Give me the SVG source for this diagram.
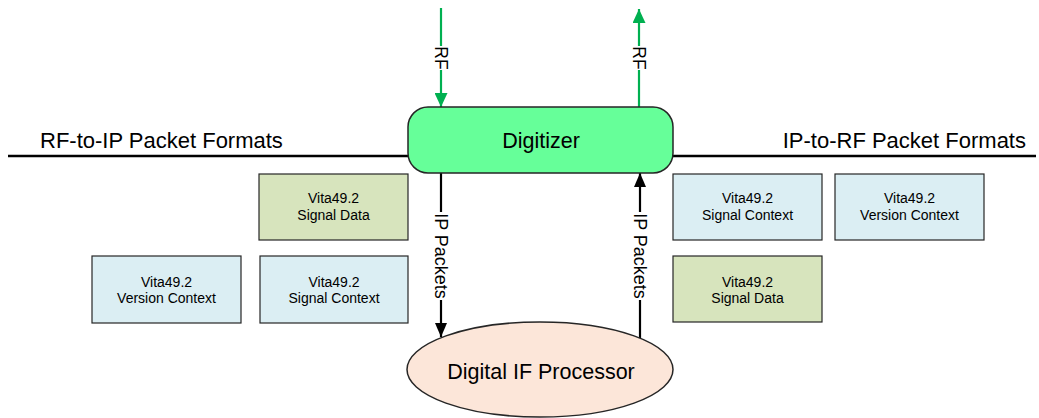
<svg xmlns="http://www.w3.org/2000/svg" width="1039" height="418" viewBox="0 0 1039 418">
  <style>
    text { font-family: "Liberation Sans", Arial, sans-serif; fill: #000; }
    .title { font-size: 22px; }
    .main { font-size: 21.5px; text-anchor: middle; }
    .fmt { font-size: 14px; text-anchor: middle; }
    .lbl { font-size: 17.5px; text-anchor: middle; }
    .ctx { fill: #DBEEF3; stroke: #262626; stroke-width: 1.2; }
    .dat { fill: #D7E4BD; stroke: #262626; stroke-width: 1.2; }
    .rule { stroke: #000; stroke-width: 2.5; fill: none; }
    .rf { stroke: #00B050; stroke-width: 2.2; fill: none; }
    .ip { stroke: #000; stroke-width: 2.2; fill: none; }
    .gap { fill: #fff; }
  </style>
  <defs>
    <marker id="head-green" viewBox="0 0 14 13" refX="14" refY="6.5" markerWidth="14" markerHeight="13" markerUnits="userSpaceOnUse" orient="auto">
      <path d="M0,0 L14,6.5 L0,13 Z" fill="#00B050"/>
    </marker>
    <marker id="head-black" viewBox="0 0 14 12" refX="14" refY="6" markerWidth="14" markerHeight="12" markerUnits="userSpaceOnUse" orient="auto">
      <path d="M0,0 L14,6 L0,12 Z" fill="#000"/>
    </marker>
  </defs>

  <!-- section rules and headings -->
  <g id="rf-to-ip-heading">
    <line class="rule" x1="8" y1="156" x2="410" y2="156"/>
    <text class="title" x="40" y="148">RF-to-IP Packet Formats</text>
  </g>
  <g id="ip-to-rf-heading">
    <line class="rule" x1="671" y1="156" x2="1036" y2="156"/>
    <text class="title" x="1026" y="148" text-anchor="end">IP-to-RF Packet Formats</text>
  </g>

  <!-- connectors -->
  <g id="connectors">
    <line class="rf" x1="441" y1="8" x2="441" y2="107" marker-end="url(#head-green)"/>
    <line class="rf" x1="639" y1="107" x2="639" y2="9" marker-end="url(#head-green)"/>
    <line class="ip" x1="441" y1="173" x2="441" y2="337" marker-end="url(#head-black)"/>
    <line class="ip" x1="640" y1="338" x2="640" y2="173" marker-end="url(#head-black)"/>

    <rect class="gap" x="434" y="46" width="14" height="24"/>
    <text class="lbl" transform="translate(435,58) rotate(90)">RF</text>
    <rect class="gap" x="632" y="46" width="14" height="24"/>
    <text class="lbl" transform="translate(633,58) rotate(90)">RF</text>

    <rect class="gap" x="433" y="212" width="16" height="88"/>
    <text class="lbl" transform="translate(435,256) rotate(90)" style="font-size:18px">IP Packets</text>
    <rect class="gap" x="632" y="212" width="16" height="88"/>
    <text class="lbl" transform="translate(634,256) rotate(90)" style="font-size:18px">IP Packets</text>
  </g>

  <!-- main blocks -->
  <g id="digitizer">
    <rect x="408" y="107" width="265" height="66" rx="20" ry="20" fill="#66FF99" stroke="#262626" stroke-width="1.5"/>
    <text class="main" x="541" y="148">Digitizer</text>
  </g>
  <g id="digital-if-processor">
    <ellipse cx="540" cy="369.5" rx="133" ry="47.5" fill="#FCE6D9" stroke="#262626" stroke-width="1.5"/>
    <text class="main" x="541" y="379">Digital IF Processor</text>
  </g>

  <!-- RF-to-IP packet formats -->
  <g id="rx-signal-data">
    <rect class="dat" x="259" y="174" width="149" height="66"/>
    <text class="fmt" x="333.5" y="203">Vita49.2</text>
    <text class="fmt" x="333.5" y="220">Signal Data</text>
  </g>
  <g id="rx-version-context">
    <rect class="ctx" x="92" y="256" width="149" height="67"/>
    <text class="fmt" x="166.5" y="287">Vita49.2</text>
    <text class="fmt" x="166.5" y="303">Version Context</text>
  </g>
  <g id="rx-signal-context">
    <rect class="ctx" x="260" y="256" width="148" height="67"/>
    <text class="fmt" x="334" y="287">Vita49.2</text>
    <text class="fmt" x="334" y="303">Signal Context</text>
  </g>

  <!-- IP-to-RF packet formats -->
  <g id="tx-signal-context">
    <rect class="ctx" x="673" y="174" width="149" height="66"/>
    <text class="fmt" x="747.5" y="203">Vita49.2</text>
    <text class="fmt" x="747.5" y="220">Signal Context</text>
  </g>
  <g id="tx-version-context">
    <rect class="ctx" x="835" y="174" width="149" height="66"/>
    <text class="fmt" x="909.5" y="203">Vita49.2</text>
    <text class="fmt" x="909.5" y="220">Version Context</text>
  </g>
  <g id="tx-signal-data">
    <rect class="dat" x="673" y="256" width="149" height="66"/>
    <text class="fmt" x="747.5" y="287">Vita49.2</text>
    <text class="fmt" x="747.5" y="303">Signal Data</text>
  </g>
</svg>
